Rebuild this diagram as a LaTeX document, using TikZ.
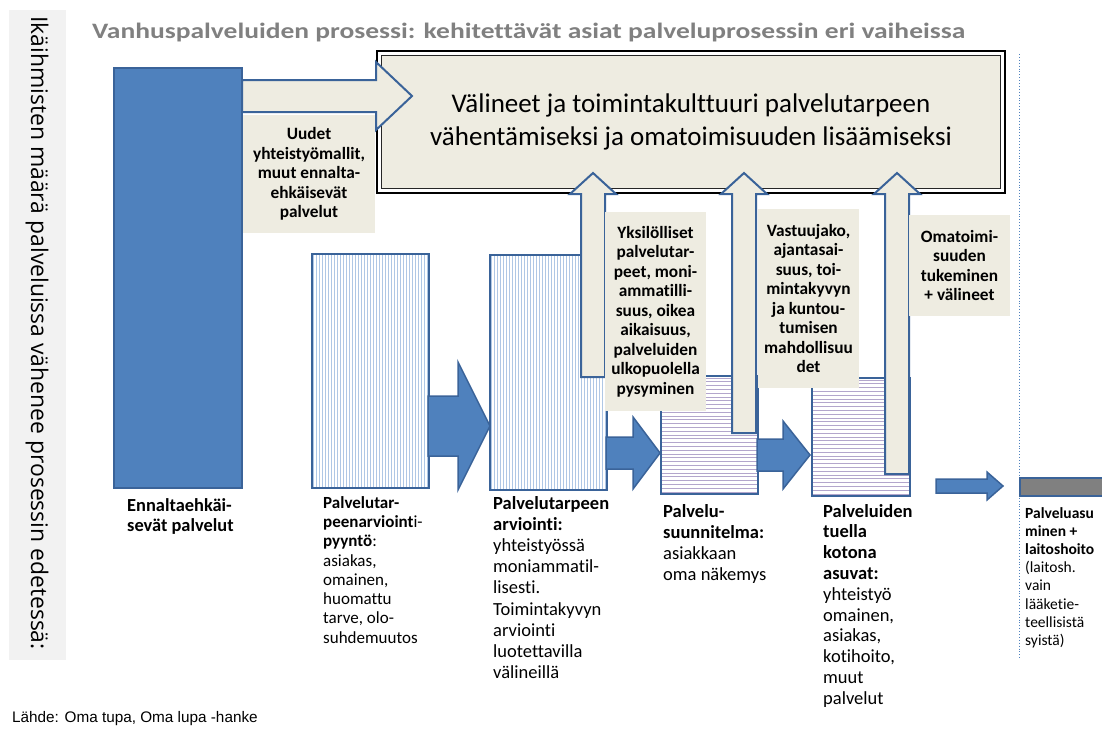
\documentclass[tikz,border=0pt]{standalone}
\usepackage{fontspec}
\setmainfont{Carlito}[Ligatures=NoCommon]
\newfontfamily\sidefont{Open Sans}
\newfontfamily\notefont{Liberation Sans}
\usetikzlibrary{calc}

\definecolor{ofblue}{HTML}{4F81BD}
\definecolor{ofline}{HTML}{3A6399}
\definecolor{beige}{HTML}{EEECE1}
\definecolor{titlegray}{HTML}{808080}
\definecolor{sidegray}{HTML}{F2F2F2}
\definecolor{hatchblue}{HTML}{AFC7E5}
\definecolor{hatchlav}{HTML}{B3A6CC}
\definecolor{bargray}{HTML}{808080}

\newcommand\fs[2]{\fontsize{#1}{#2}\selectfont}
% right-pointing block arrow: start x, head base x, tip x, centre y, half shaft, half head
\newcommand\rightblock[6]{%
  \draw[solidarrow] (#1,{#4-#5}) -- (#2,{#4-#5}) -- (#2,{#4-#6}) -- (#3,#4)
    -- (#2,{#4+#6}) -- (#2,{#4+#5}) -- (#1,{#4+#5}) -- cycle;}
% upward hollow block arrow: centre x, bottom y
\newcommand\upblock[2]{%
  \draw[hollow] ({#1-12},#2) -- ({#1-12},194) -- ({#1-23},194) -- (#1,173)
    -- ({#1+23},194) -- ({#1+12},194) -- ({#1+12},#2) -- cycle;}

\begin{document}
\begin{tikzpicture}[x=1pt,y=-1pt,
  stagebox/.style={draw=ofline, line width=2pt, fill=white, inner sep=0, anchor=north west},
  vhatch/.style={path picture={\foreach \i in {0,...,45}{
      \draw[hatchblue, line width=0.6pt]
        ($(path picture bounding box.south west)+(\i*3+1.5,0)$) --
        ($(path picture bounding box.north west)+(\i*3+1.5,0)$);}}},
  hhatch/.style={path picture={\foreach \i in {0,...,35}{
      \draw[hatchlav, line width=0.7pt]
        ($(path picture bounding box.north west)+(0,\i*3.8+2)$) --
        ($(path picture bounding box.north east)+(0,\i*3.8+2)$);}}},
  solidarrow/.style={draw=ofline, line width=1.5pt, fill=ofblue, line join=miter},
  hollow/.style={draw=ofline, line width=2pt, fill=beige, line join=miter},
  note/.style={fill=beige, inner sep=0, align=center, font=\bfseries\fs{17.3}{19.5}},
  lbl/.style={anchor=north west, inner sep=0, align=left}]

\useasboundingbox (0,0) rectangle (1102,729);
\clip (0,0) rectangle (1102,729);

% side band with the vertical caption
\node[fill=sidegray, anchor=north west, minimum width=57, minimum height=650, inner sep=0] (side) at (9,10) {};
\node[rotate=-90, inner sep=0, font=\sidefont\fs{22.9}{26}] (sidetext) at (37,333)
  {Ikäihmisten määrä palveluissa vähenee prosessin edetessä:};

% heading
\node[anchor=base west, inner sep=0, text=titlegray, font=\bfseries\fs{22}{26}] (title) at (92,38)
  {\scalebox{1.25}[1]{Vanhuspalveluiden prosessi: kehitettävät asiat palveluprosessin eri vaiheissa}};

% goal box with double frame
\node[draw=black, line width=2.5pt, fill=white, minimum width=628, minimum height=142, inner sep=0] (goal) at (691,122) {};
\node[draw=black!85, line width=1pt, fill=beige, minimum width=619, minimum height=133, inner sep=0,
  align=center, font=\fs{27}{33}] (goaltext) at (691,122)
  {Välineet ja toimintakulttuuri palvelutarpeen\\vähentämiseksi ja omatoimisuuden lisäämiseksi};

% process stages
\node[stagebox, fill=ofblue, minimum width=128, minimum height=420] (prev) at (113,67) {};
\node[stagebox, vhatch, minimum width=117, minimum height=234] (req) at (311,253) {};
\node[stagebox, vhatch, minimum width=117, minimum height=235] (assess) at (489,254) {};
\node[stagebox, hhatch, minimum width=97, minimum height=118] (plan) at (660,375) {};
\node[stagebox, hhatch, minimum width=98, minimum height=118] (home) at (811,377) {};

% flow arrows between stages
\rightblock{428}{458}{490}{426}{30}{64}
\rightblock{606}{633}{660}{453}{16}{36}
\rightblock{757}{783}{810}{455}{16}{34}
\rightblock{936}{987}{1003}{486}{7}{14}

% arrows feeding the goal box
\upblock{593}{377}
\upblock{744}{433}
\upblock{897}{474}
\draw[hollow] (242,80) -- (376,80) -- (376,62) -- (412,96) -- (376,130) -- (376,112) -- (242,112) -- cycle;

% development notes
\node[note, minimum width=132, minimum height=118] (n1) at (309,174)
  {Uudet\\yhteistyömallit,\\muut ennalta-\\ehkäisevät\\palvelut};
\node[note, minimum width=101, minimum height=199] (n2) at (655.5,311.5)
  {Yksilölliset\\palvelutar-\\peet, moni-\\ammatilli-\\suus, oikea\\aikaisuus,\\palveluiden\\ulkopuolella\\pysyminen};
\node[note, minimum width=101, minimum height=179] (n3) at (808.5,298.5)
  {Vastuujako,\\ajantasai-\\suus, toi-\\mintakyvyn\\ja kuntou-\\tumisen\\mahdollisuu\\det};
\node[note, minimum width=101, minimum height=101] (n4) at (959.5,265.5)
  {Omatoimi-\\suuden\\tukeminen\\+ välineet};

% border of the last stage
\coordinate (dtop) at (1019,54);
\coordinate (dbot) at (1019,658);
\draw[ofblue, dotted, line width=0.9pt] (dtop) -- (dbot);
\node[stagebox, line width=1.5pt, fill=bargray, minimum width=100, minimum height=18] (care) at (1019,477) {};

% stage captions
\node[lbl, font=\bfseries\fs{18.4}{20}] (c1) at (127,498) {Ennaltaehkäi-\\sevät palvelut};
\node[lbl, font=\fs{17}{19.3}] (c2) at (323,496)
  {\textbf{Palvelutar-}\\\textbf{peenarvioint}i-\\\textbf{pyyntö}:\\asiakas,\\omainen,\\huomattu\\tarve, olo-\\suhdemuutos};
\node[lbl, font=\fs{18.5}{21.2}] (c3) at (493,496)
  {\textbf{Palvelutarpeen}\\\textbf{arviointi:}\\yhteistyössä\\moniammatil-\\lisesti.\\Toimintakyvyn\\arviointi\\luotettavilla\\välineillä};
\node[lbl, font=\fs{18.5}{21}] (c4) at (663,504)
  {\textbf{Palvelu-}\\\textbf{suunnitelma:}\\asiakkaan\\oma näkemys};
\node[lbl, font=\fs{18.5}{20.8}] (c5) at (823,504)
  {\textbf{Palveluiden}\\\textbf{tuella}\\\textbf{kotona}\\\textbf{asuvat:}\\yhteistyö\\omainen,\\asiakas,\\kotihoito,\\muut\\palvelut};
\node[lbl, font=\fs{15.5}{18.2}] (c6) at (1025,507)
  {\textbf{Palveluasu}\\\textbf{minen +}\\\textbf{laitoshoito}\\(laitosh.\\vain\\lääketie-\\teellisistä\\syistä)};

% source
\node[anchor=base west, inner sep=0, font=\notefont\fs{15.3}{18}] (src) at (12,722) {Lähde: Oma tupa, Oma lupa -hanke};
\end{tikzpicture}
\end{document}
